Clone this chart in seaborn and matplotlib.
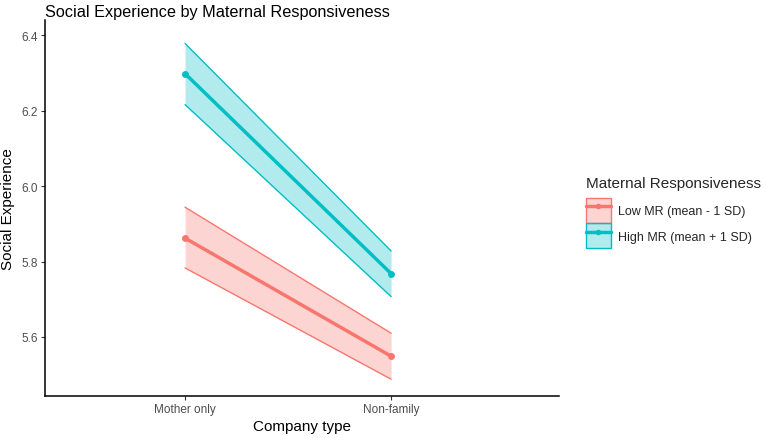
import matplotlib
matplotlib.use("Agg")
import matplotlib.pyplot as plt
import seaborn as sns
import pandas as pd
from matplotlib.patches import Patch
from matplotlib.lines import Line2D
from matplotlib.legend_handler import HandlerTuple

company = ["Mother only", "Non-family"]
groups = ["Low MR (mean - 1 SD)", "High MR (mean + 1 SD)"]
low_mean = [5.862, 5.549]
low_lo = [5.783, 5.488]
low_hi = [5.944, 5.610]
high_mean = [6.298, 5.768]
high_lo = [6.216, 5.707]
high_hi = [6.378, 5.828]
colors = ["#F8766D", "#00BFC4"]

rows = []
for g, m, lo, hi in [(groups[0], low_mean, low_lo, low_hi), (groups[1], high_mean, high_lo, high_hi)]:
    for i, c in enumerate(company):
        rows.append({"x": i, "company": c, "group": g, "mean": m[i], "lo": lo[i], "hi": hi[i]})
df = pd.DataFrame(rows)

sns.set_theme(style="white")
plt.rcParams["font.family"] = ["Liberation Sans", "DejaVu Sans"]

fig = plt.figure(figsize=(7.67, 4.39), dpi=100)
ax = fig.add_axes([45/767, 1-397/439, (559-45)/767, (397-21)/439])

for g, col in zip(groups, colors):
    d = df[df.group == g]
    ax.fill_between(d["x"], d["lo"], d["hi"], color=col, alpha=0.3, linewidth=0)
    sns.lineplot(data=d, x="x", y="lo", color=col, linewidth=1.0, ax=ax, legend=False)
    sns.lineplot(data=d, x="x", y="hi", color=col, linewidth=1.0, ax=ax, legend=False)
    sns.lineplot(data=d, x="x", y="mean", color=col, linewidth=2.5, marker="o",
                 markersize=5, markeredgewidth=0, ax=ax, legend=False)

ymin = df["lo"].min(); ymax = df["hi"].max(); r = ymax - ymin
ax.set_ylim(ymin - 0.05*r, ymax + 0.07*r)
ax.set_xlim(-0.68, 1.815)
ax.set_xticks([0, 1])
ax.set_xticklabels(company)
ax.set_yticks([5.6, 5.8, 6.0, 6.2, 6.4])
ax.set_yticklabels(["5.6", "5.8", "6.0", "6.2", "6.4"])
ax.tick_params(axis="both", labelsize=8.5, labelcolor="#4D4D4D", length=3, width=0.8,
               color="#333333", direction="out", bottom=True, left=True, pad=2)
for s in ["top", "right"]:
    ax.spines[s].set_visible(False)
for s in ["left", "bottom"]:
    ax.spines[s].set_color("black")
    ax.spines[s].set_linewidth(1.1)
ax.set_xlabel("Company type", fontsize=11, color="black", labelpad=3)
ax.set_ylabel("Social Experience", fontsize=11, color="black", labelpad=5)
fig.text(45/767, 1-12/439, "Social Experience by Maternal Responsiveness", fontsize=11.7,
         va="center", ha="left", color="black")

handles = []
for col in colors:
    p = Patch(facecolor=matplotlib.colors.to_rgba(col, 0.3), edgecolor=col, linewidth=1.0)
    l = Line2D([], [], color=col, linewidth=2.5, marker="o", markersize=4, markeredgewidth=0)
    handles.append((p, l))
leg = fig.legend(handles, groups, handler_map={tuple: HandlerTuple(ndivide=1, pad=0)},
                 loc="center left", bbox_to_anchor=(583/767, 1-213/439), frameon=False,
                 title="Maternal Responsiveness", fontsize=9, title_fontsize=11,
                 handlelength=2.0, handleheight=2.7, handletextpad=0.6, labelspacing=0.05,
                 borderpad=0.2, borderaxespad=0)
leg._legend_box.align = "left"
leg._legend_box.sep = 6

fig.savefig("out.png", dpi=100)
